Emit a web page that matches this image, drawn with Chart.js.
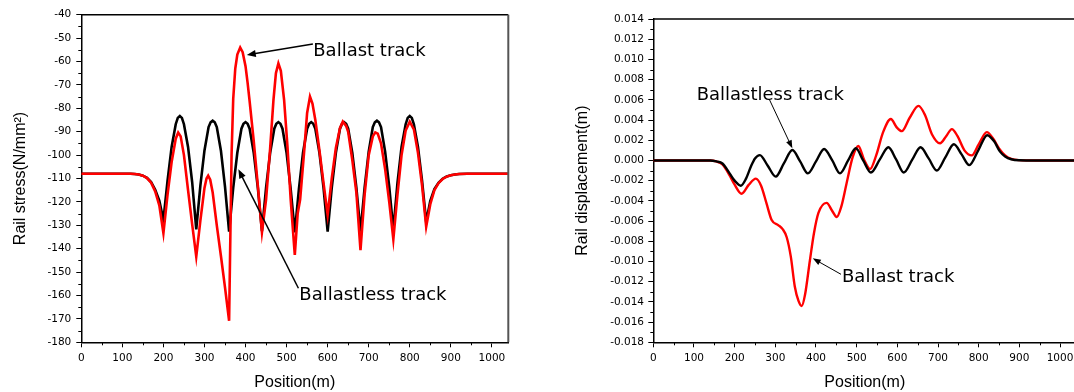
<!DOCTYPE html>
<html>
<head>
<meta charset="utf-8">
<script src="https://cdn.jsdelivr.net/npm/chart.js@4.4.0/dist/chart.umd.min.js"></script>
<style>
html,body{margin:0;padding:0;background:#fff;overflow:hidden;width:1074px;height:392px;position:relative}
#c1{position:absolute;left:0;top:0;width:540px;height:392px}
#c2{position:absolute;left:540px;top:0;width:540px;height:392px}
</style>
</head>
<body>
<canvas id="c1" width="540" height="392"></canvas>
<canvas id="c2" width="540" height="392"></canvas>
<script>
// ---------- Data ----------
// Position ticks (m)
const positionTicks = [0,100,200,300,400,500,600,700,800,900,1000];
const stressTicks = [-180,-170,-160,-150,-140,-130,-120,-110,-100,-90,-80,-70,-60,-50,-40];
const dispTicks = [-0.018,-0.016,-0.014,-0.012,-0.010,-0.008,-0.006,-0.004,-0.002,0,0.002,0.004,0.006,0.008,0.010,0.012,0.014];

// Rail stress, ballastless track (black)
const stressBlackX = [
  0,60,100,120,130,140,150,160,170,180,190,200,
  210,220,230,235,240,245,250,260,270,280,
  290,300,310,315,320,325,330,340,350,360,
  370,380,390,395,400,405,410,420,430,440,
  450,460,470,475,480,485,490,500,510,520,
  530,540,550,555,560,565,570,580,590,600,
  610,620,630,635,640,645,650,660,670,680,
  690,700,710,715,720,725,730,740,750,760,
  770,780,790,795,800,805,810,820,830,840,
  850,860,870,880,890,900,910,920,940,980,1040];
const stressBlackY = [
  -108,-108,-108,-108,-108.1,-108.3,-108.8,-109.7,-111.5,-114.8,-119.5,-127.7,
  -111,-96.5,-86.8,-84.1,-83.3,-84.1,-86.8,-96.5,-111.5,-131.7,
  -113,-98,-88,-86,-85.3,-86,-88,-98,-113.5,-132.7,
  -114,-99,-88.7,-86.6,-85.9,-86.6,-88.7,-99,-114,-132.5,
  -114,-99,-88.7,-86.6,-85.9,-86.6,-88.7,-99,-114.5,-133,
  -114.5,-99,-88.7,-86.6,-85.9,-86.6,-88.7,-99,-114,-132.7,
  -114,-99,-88.7,-86.6,-85.9,-86.6,-88.7,-99,-114,-132.7,
  -114,-98.5,-88,-86,-85.3,-86,-88,-98.5,-113.5,-132,
  -112,-96.5,-86.8,-84.1,-83.3,-84.1,-86.8,-96.5,-111,-128.5,
  -119.5,-114.5,-111.8,-110.1,-109.1,-108.6,-108.3,-108.1,-108,-108,-108];

// Rail stress, ballast track (red)
const stressRedX = [
  0,60,100,120,130,140,150,160,170,180,190,200,
  210,220,230,236,242,250,260,270,280,
  290,300,305,309,314,320,330,340,350,360,
  363,366,370,375,380,387,393,400,405,410,420,430,440,
  450,460,468,474,480,486,494,502,510,520,
  527,533,543,550,557,563,570,580,590,600,
  610,620,630,637,645,650,660,670,680,
  690,700,710,716,722,730,740,750,760,
  770,780,790,800,810,820,830,840,
  850,860,870,880,890,900,910,920,940,1040];
const stressRedY = [
  -108,-108,-108,-108,-108.1,-108.3,-108.8,-109.8,-111.8,-115.5,-121.5,-133.4,
  -117,-103,-93,-90.4,-92,-100,-115,-129.5,-143.4,
  -128,-114,-110,-108.8,-110.5,-116,-130,-143,-156.5,-170.8,
  -135,-100,-76,-63,-57,-54,-56,-62,-69,-77,-94,-113,-133,
  -119,-97,-76.5,-65,-60.8,-64,-76.5,-96,-119,-142.7,
  -125,-119,-98,-82,-75,-78,-85,-98,-112,-125.6,
  -110,-97,-88.5,-85.7,-87.5,-90,-102,-116,-140.6,
  -117,-100,-92,-90.3,-90.8,-95,-106,-120,-136,
  -117,-100,-89.5,-85.7,-89,-99,-113,-130.6,
  -121,-115,-112,-110.2,-109.2,-108.6,-108.3,-108.1,-108,-108];

// Rail displacement, ballastless track (black)
const dispBlackX = [
  0,100,140,155,170,188,200,215,228,240,
  250,262,281,301,321,342,361,380,400,420,
  440,459,479,498,516,535,557,578,597,616,
  637,657,677,697,718,739,758,777,799,821,
  838,852,865,880,900,940,1040];
const dispBlackY = [
  0,0,0,-0.0001,-0.0003,-0.0013,-0.0020,-0.0025,-0.0018,-0.0006,
  0.0002,0.00053,-0.0005,-0.0016,-0.0003,0.00103,-0.0001,-0.00128,-0.0001,0.00113,
  0.0000,-0.00128,0.0000,0.0012,0.0000,-0.0012,0.0001,0.0013,0.0001,-0.0012,
  0.0001,0.0013,0.0002,-0.0010,0.0003,0.0016,0.0006,-0.00046,0.0010,0.0025,
  0.0019,0.0009,0.0004,0.00012,0.00002,0,0];

// Rail displacement, ballast track (red)
const dispRedX = [
  0,100,140,155,170,188,200,217,235,252,
  265,278,291,307,318,328,338,348,357,365,
  373,385,395,406,426,440,451,462,475,490,
  504,518,533,548,565,584,598,611,630,652,
  668,685,705,720,734,748,765,783,800,820,
  835,850,865,880,900,940,1040];
const dispRedY = [
  0,0,0,-0.0001,-0.0004,-0.0015,-0.0024,-0.0033,-0.0024,-0.0018,
  -0.0025,-0.0042,-0.0059,-0.0064,-0.0068,-0.0076,-0.0095,-0.0125,-0.0139,-0.0144,
  -0.0133,-0.0099,-0.0072,-0.0052,-0.0042,-0.0050,-0.0056,-0.0046,-0.0023,0.0003,
  0.00143,0.0001,-0.00085,0.0005,0.0028,0.0041,0.0033,0.0029,0.0042,0.0054,
  0.0045,0.0026,0.0017,0.0024,0.0031,0.0024,0.0010,0.0005,0.0016,0.0028,
  0.0022,0.0012,0.0005,0.00015,0.00003,0,0];

// Annotation labels (data coordinates)
const leftNotes = [
  {text:'Ballast track', at:[565,-57.6], from:[564,-52.5], to:[403,-57.2]},
  {text:'Ballastless track', at:[531,-161.9], from:[528.8,-156.9], to:[382.6,-106.1]}
];
const rightNotes = [
  {text:'Ballastless track', at:[106.7,0.00598], from:[285.2,0.00605], to:[341.8,0.0012]},
  {text:'Ballast track', at:[464,-0.0120], from:[461.5,-0.01127], to:[392,-0.00969]}
];

// ---------- Helpers ----------
function pts(xs, ys){ return xs.map((x,i)=>({x:x, y:ys[i]})); }
const tickFont = {family:'"DejaVu Sans", Verdana, sans-serif', size:10.5};
const titleFont = {family:'"Liberation Sans", Arial, sans-serif', size:16};

const deco = {
  id:'deco',
  afterDraw(chart, args, o){
    const {ctx, chartArea:a, scales:{x,y}} = chart;
    ctx.save();
    ctx.strokeStyle = '#000';
    ctx.lineWidth = 1;
    // minor ticks
    ctx.beginPath();
    for (let i=0;i<o.xMajor.length;i++){
      const v = o.xMajor[i] + (o.xMajor[1]-o.xMajor[0])/2;
      if (v > x.max) break;
      const px = Math.round(x.getPixelForValue(v))+0.5;
      ctx.moveTo(px, a.bottom); ctx.lineTo(px, a.bottom+3);
    }
    for (let i=0;i<o.yMajor.length-1;i++){
      const v = (o.yMajor[i]+o.yMajor[i+1])/2;
      const py = Math.round(y.getPixelForValue(v))+0.5;
      ctx.moveTo(a.left, py); ctx.lineTo(a.left-3, py);
    }
    ctx.stroke();
    // frame
    ctx.lineWidth = 1.5;
    ctx.strokeStyle = '#000';
    ctx.beginPath(); ctx.moveTo(a.left, a.top); ctx.lineTo(a.right, a.top); ctx.stroke();
    ctx.lineWidth = 2;
    ctx.strokeStyle = '#555';
    ctx.beginPath(); ctx.moveTo(a.right, a.top); ctx.lineTo(a.right, a.bottom); ctx.stroke();
    // annotations
    ctx.fillStyle = '#000';
    ctx.strokeStyle = '#000';
    ctx.font = '18px "DejaVu Sans", Verdana, sans-serif';
    ctx.textBaseline = 'alphabetic';
    ctx.textAlign = 'left';
    for (const n of o.notes){
      ctx.fillText(n.text, x.getPixelForValue(n.at[0]), y.getPixelForValue(n.at[1]));
      const x0 = x.getPixelForValue(n.from[0]), y0 = y.getPixelForValue(n.from[1]);
      const x1 = x.getPixelForValue(n.to[0]), y1 = y.getPixelForValue(n.to[1]);
      const ang = Math.atan2(y1-y0, x1-x0);
      const L = o.headLen, W = o.headW;
      ctx.lineWidth = o.arrowWidth;
      ctx.beginPath(); ctx.moveTo(x0,y0);
      ctx.lineTo(x1 - Math.cos(ang)*L*0.8, y1 - Math.sin(ang)*L*0.8); ctx.stroke();
      ctx.beginPath();
      ctx.moveTo(x1,y1);
      ctx.lineTo(x1 - Math.cos(ang)*L + Math.sin(ang)*W, y1 - Math.sin(ang)*L - Math.cos(ang)*W);
      ctx.lineTo(x1 - Math.cos(ang)*L - Math.sin(ang)*W, y1 - Math.sin(ang)*L + Math.cos(ang)*W);
      ctx.closePath(); ctx.fill();
    }
    ctx.restore();
  }
};

function makeOptions(cfg){
  return {
    responsive:false, animation:false, devicePixelRatio:1,
    layout:{padding:{left:0, right:cfg.padRight, top:cfg.padTop, bottom:0}},
    plugins:{legend:{display:false}, tooltip:{enabled:false},
      deco:{xMajor:positionTicks, yMajor:cfg.yTicks, notes:cfg.notes,
            headLen:cfg.headLen, headW:cfg.headW, arrowWidth:cfg.arrowWidth}},
    elements:{point:{radius:0}},
    scales:{
      x:{type:'linear', min:0, max:1040,
        afterFit(s){ s.height = 49.7; },
        afterBuildTicks(s){ s.ticks = positionTicks.map(v=>({value:v})); },
        ticks:{font:tickFont, color:'#000', padding:4.5, maxRotation:0, autoSkip:false,
               callback:(v)=>String(v)},
        grid:{drawOnChartArea:false, drawTicks:true, tickLength:5, color:'#000', lineWidth:1},
        border:{display:true, color:'#000', width:1.5},
        title:{display:true, text:'Position(m)', font:titleFont, color:'#000', padding:0}
      },
      y:{type:'linear', min:cfg.yMin, max:cfg.yMax,
        afterFit(s){ s.width = cfg.yWidth; },
        afterBuildTicks(s){ s.ticks = cfg.yTicks.map(v=>({value:v})); },
        ticks:{font:tickFont, color:'#000', padding:cfg.yPad, autoSkip:false,
               callback:cfg.yFmt},
        grid:{drawOnChartArea:false, drawTicks:true, tickLength:5, color:'#000', lineWidth:1},
        border:{display:true, color:'#000', width:1.5},
        title:{display:true, text:cfg.yTitle, font:titleFont, color:'#000', padding:{top:cfg.yTitlePad, bottom:0}}
      }
    }
  };
}

new Chart(document.getElementById('c1'), {
  type:'line',
  data:{datasets:[
    {label:'Ballast track', data:pts(stressRedX, stressRedY), borderColor:'#ff0000', borderWidth:2.6, tension:0, fill:false},
    {label:'Ballastless track', data:pts(stressBlackX, stressBlackY), borderColor:'#000000', borderWidth:2.6, tension:0, fill:false}
  ]},
  options:makeOptions({padRight:31.7, padTop:14.7, yMin:-180, yMax:-40, yTicks:stressTicks,
    yWidth:81.3, yPad:5, yFmt:(v)=>String(v), yTitle:'Rail stress(N/mm²)', yTitlePad:10.5,
    notes:leftNotes, headLen:9, headW:3.5, arrowWidth:1.5}),
  plugins:[deco]
});

new Chart(document.getElementById('c2'), {
  type:'line',
  data:{datasets:[
    {label:'Ballastless track', data:pts(dispBlackX, dispBlackY), borderColor:'#000000', borderWidth:2.4, cubicInterpolationMode:'monotone', fill:false},
    {label:'Ballast track', data:pts(dispRedX, dispRedY), borderColor:'#ff0000', borderWidth:2.4, cubicInterpolationMode:'monotone', fill:false}
  ]},
  options:makeOptions({padRight:3.7, padTop:19, yMin:-0.018, yMax:0.014, yTicks:dispTicks,
    yWidth:113.3, yPad:4.3, yFmt:(v)=>(Math.abs(v)<1e-9?'0.000':v.toFixed(3)), yTitle:'Rail displacement(m)', yTitlePad:33.4,
    notes:rightNotes, headLen:8, headW:3, arrowWidth:1}),
  plugins:[deco]
});
</script>
</body>
</html>
